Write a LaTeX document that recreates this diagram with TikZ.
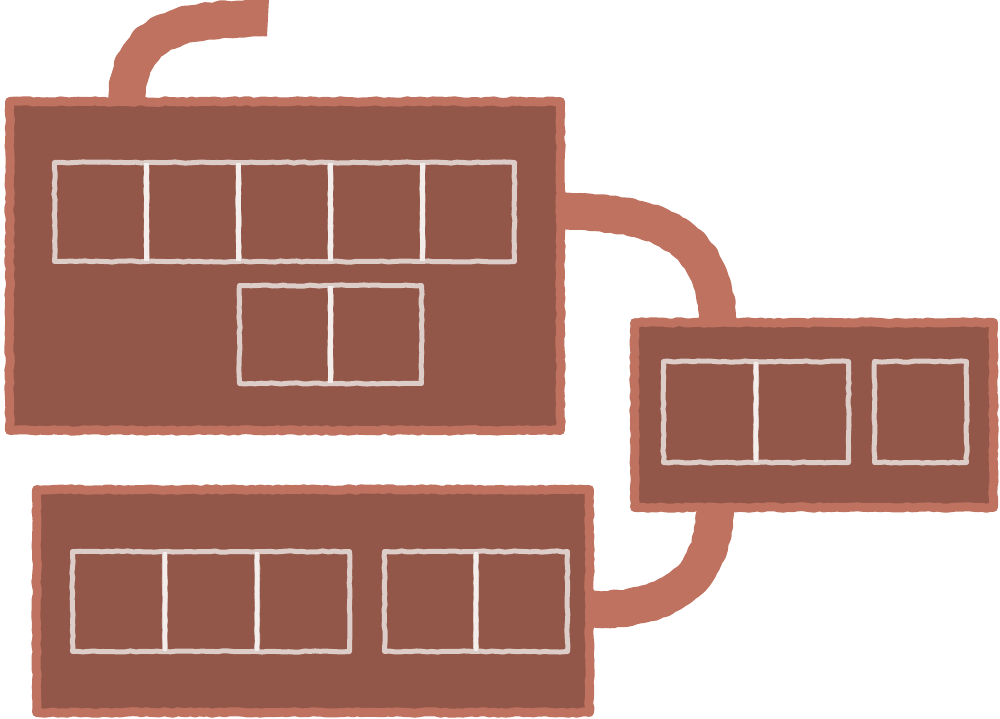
\documentclass[tikz,border=0pt]{standalone}
\usetikzlibrary{calc,backgrounds,decorations.pathmorphing}
\definecolor{rim}{HTML}{C07260}
\definecolor{body}{HTML}{935749}
\definecolor{celledge}{HTML}{DCCDC8}
\definecolor{cellsep}{HTML}{F3EDEB}
\begin{document}
\pgfmathsetseed{7}
\begin{tikzpicture}[x=0.02cm,y=-0.02cm,
  slot/.style={inner sep=0pt, outer sep=0pt},
  panel/.style={draw=rim, fill=body, line width=5.1pt, line join=round,
    decorate, decoration={random steps, segment length=2.5pt, amplitude=0.45pt}},
  cell/.style={draw=celledge, line width=2.85pt, line join=round,
    decorate, decoration={random steps, segment length=3pt, amplitude=0.35pt}},
  sep/.style={draw=cellsep, line width=2.6pt},
  tube/.style={draw=rim, line width=21pt, line join=round,
    decorate, decoration={random steps, segment length=3pt, amplitude=0.6pt}}]
\useasboundingbox (0,0) rectangle (1000,719);

% panels
\node[slot, minimum width=11.02cm, minimum height=6.58cm] (box1) at (285,266) {};
\node[slot, minimum width=7.18cm, minimum height=3.70cm] (box2) at (814,415) {};
\node[slot, minimum width=11.06cm, minimum height=4.46cm] (box3) at (313,601) {};
\foreach \b in {box1,box2,box3}
  \path[panel] (\b.north west) rectangle (\b.south east);

% box1 cells
\begin{scope}[every node/.append style={slot, minimum width=1.84cm, minimum height=1.98cm}]
\node (a1) at (100.5,212) {};
\node (a2) at (192.5,212) {};
\node (a3) at (284.5,212) {};
\node (a4) at (376.5,212) {};
\node (a5) at (468.5,212) {};
\end{scope}
\begin{scope}[every node/.append style={slot, minimum width=1.82cm, minimum height=1.96cm}]
\node (b1) at (285,334.5) {};
\node (b2) at (376,334.5) {};
\end{scope}
% box2 cells
\begin{scope}[every node/.append style={slot, minimum width=1.85cm, minimum height=2.02cm}]
\node (c1) at (709.75,412) {};
\node (c2) at (802.25,412) {};
\end{scope}
\node[slot, minimum width=1.84cm, minimum height=2.02cm] (c3) at (920.5,412) {};
% box3 cells
\begin{scope}[every node/.append style={slot, minimum width=1.847cm, minimum height=2.0cm}]
\node (d1) at (118.7,601.5) {};
\node (d2) at (211,601.5) {};
\node (d3) at (303.3,601.5) {};
\end{scope}
\begin{scope}[every node/.append style={slot, minimum width=1.83cm, minimum height=2.0cm}]
\node (e1) at (430.25,601.5) {};
\node (e2) at (521.75,601.5) {};
\end{scope}
\foreach \c in {a1,a2,a3,a4,a5,b1,b2,c1,c2,c3,d1,d2,d3,e1,e2}
  \path[cell] (\c.north west) rectangle (\c.south east);

% whiter dividers between adjacent cells
\foreach \n in {a1,a2,a3,a4,b1,c1,d1,d2,e1}
  \draw[sep] (\n.north east) -- (\n.south east);

% connectors behind panels
\coordinate (tip) at (268,18);
\begin{scope}[on background layer]
\draw[tube] ($(box1.north west)+(117,5)$) .. controls +(0,-72) and (168,18) .. (tip);
\draw[tube] ($(box1.east)+(-5,-55)$) .. controls (650,211) and (718,230) .. ($(box2.north)+(-96,4)$);
\draw[tube] ($(box2.south)+(-99,-4)$) .. controls (715,590) and (660,610) .. ($(box3.east)+(-4,9)$);
\end{scope}
\end{tikzpicture}
\end{document}
